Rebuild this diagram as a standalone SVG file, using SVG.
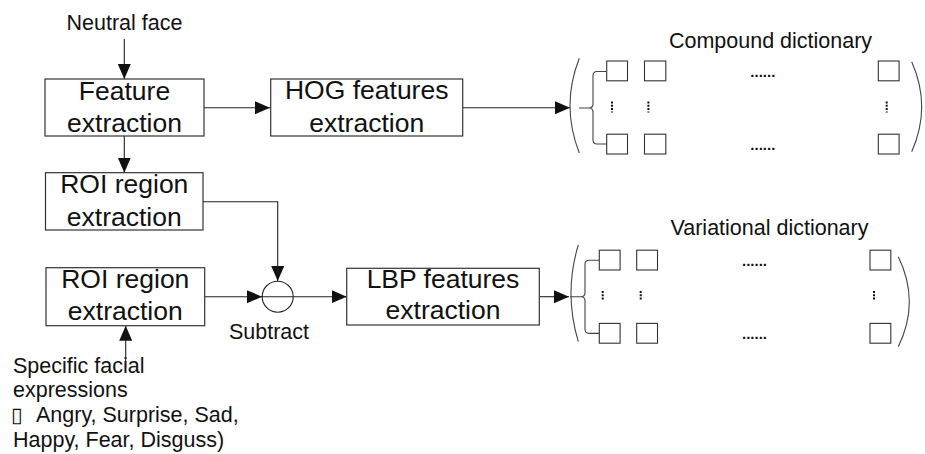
<svg xmlns="http://www.w3.org/2000/svg" width="925" height="454" viewBox="0 0 925 454">
  <style>
    .box { fill: #ffffff; stroke: #333333; stroke-width: 1.2; }
    .cell { fill: #ffffff; stroke: #333333; stroke-width: 1.1; }
    .wire { fill: none; stroke: #222222; stroke-width: 1.1; }
    .brk { fill: none; stroke: #444444; stroke-width: 1.1; }
    .vdots { fill: none; stroke: #111111; stroke-width: 2; stroke-dasharray: 2 1.3; }
    .big { font-family: "Liberation Sans", Arial, sans-serif; font-size: 26.5px; fill: #111111; text-anchor: middle; }
    .lbl { font-family: "Liberation Sans", Arial, sans-serif; font-size: 21.5px; fill: #111111; }
    .mid { text-anchor: middle; }
    .dots { font-family: "Liberation Sans", Arial, sans-serif; font-size: 15px; font-weight: bold; fill: #111111; }
  </style>
  <defs>
    <marker id="arrow" markerUnits="userSpaceOnUse" markerWidth="16" markerHeight="14" refX="15" refY="6.5" orient="auto">
      <path d="M0,0 L15,6.5 L0,13 z" fill="#111111"/>
    </marker>
  </defs>

  <rect width="925" height="454" fill="#ffffff"/>

  <!-- free labels -->
  <text class="lbl mid" x="124.5" y="30">Neutral face</text>
  <text class="lbl mid" x="269" y="339">Subtract</text>
  <g id="expressions-label">
    <text class="lbl" x="13" y="372.5">Specific facial</text>
    <text class="lbl" x="13" y="396.5">expressions</text>
    <text class="lbl" x="11" y="422"><tspan font-family="DejaVu Sans, sans-serif" font-size="21px">▯</tspan><tspan x="36">Angry, Surprise, Sad,</tspan></text>
    <text class="lbl" x="13" y="446.5">Happy, Fear, Disguss)</text>
  </g>

  <!-- connectors -->
  <g id="connectors">
    <path class="wire" d="M124.3,39 V79" marker-end="url(#arrow)"/>
    <path class="wire" d="M204,107.7 H270" marker-end="url(#arrow)"/>
    <path class="wire" d="M124.3,136 V172.7" marker-end="url(#arrow)"/>
    <path class="wire" d="M203,201.7 H277.7 V281" marker-end="url(#arrow)"/>
    <path class="wire" d="M204.7,296.7 H262" marker-end="url(#arrow)"/>
    <path class="wire" d="M262,296.7 H346.7" marker-end="url(#arrow)"/>
    <path class="wire" d="M125.7,367 V325.7" marker-end="url(#arrow)"/>
    <path class="wire" d="M462.7,107.7 H570" marker-end="url(#arrow)"/>
    <path class="wire" d="M539.3,296.7 H569" marker-end="url(#arrow)"/>
  </g>

  <!-- processing nodes -->
  <g id="feature-extraction">
    <rect class="box" x="45" y="79" width="159" height="57"/>
    <text class="big" x="124.5" y="99.5">Feature</text>
    <text class="big" x="124.5" y="131.5">extraction</text>
  </g>
  <g id="hog-features">
    <rect class="box" x="270.7" y="79" width="192" height="57"/>
    <text class="big" x="366.7" y="99">HOG features</text>
    <text class="big" x="366.7" y="131.5">extraction</text>
  </g>
  <g id="roi-neutral">
    <rect class="box" x="45.5" y="172.7" width="157.5" height="57.3"/>
    <text class="big" x="124.3" y="193.3">ROI region</text>
    <text class="big" x="124.3" y="225.5">extraction</text>
  </g>
  <g id="roi-expression">
    <rect class="box" x="46" y="267.7" width="158.7" height="58"/>
    <text class="big" x="125.3" y="288.3">ROI region</text>
    <text class="big" x="125.3" y="320">extraction</text>
  </g>
  <g id="subtract">
    <circle cx="277.7" cy="296.7" r="15.5" fill="none" stroke="#222222" stroke-width="1.1"/>
  </g>
  <g id="lbp-features">
    <rect class="box" x="346.7" y="268.3" width="192.6" height="56.7"/>
    <text class="big" x="443" y="287.5">LBP features</text>
    <text class="big" x="443" y="318.5">extraction</text>
  </g>

  <!-- compound dictionary -->
  <g id="compound-dictionary">
    <text class="lbl mid" x="770.5" y="48">Compound dictionary</text>
    <path class="brk" d="M579.3,58.3 Q560.7,105.7 579.3,153"/>
    <path class="brk" d="M911.7,61.7 Q931.7,106.7 911.7,151.7"/>
    <path class="brk" d="M579,108 H589 Q593,108 593,104 V75.7 Q593,71.5 597,71.5 H606.7 M589,108 Q593,108 593,112 V140 Q593,144 597,144 H606.7"/>
    <rect class="cell" x="606.7" y="61" width="20.8" height="19.8"/>
    <rect class="cell" x="644.5" y="61" width="21.3" height="19.8"/>
    <rect class="cell" x="878.3" y="61" width="20.8" height="19.8"/>
    <rect class="cell" x="606.7" y="134.2" width="20.8" height="19.8"/>
    <rect class="cell" x="644.5" y="134.2" width="21.3" height="19.8"/>
    <rect class="cell" x="878.3" y="134.2" width="20.8" height="19.8"/>
    <text class="dots" x="750.3" y="77.2">......</text>
    <text class="dots" x="750.3" y="150.4">......</text>
    <path class="vdots" d="M612,101.5 V112.5 M648.4,101.5 V112.5 M886.7,101.5 V112.5"/>
  </g>

  <!-- variational dictionary -->
  <g id="variational-dictionary">
    <text class="lbl mid" x="769.5" y="235">Variational dictionary</text>
    <path class="brk" d="M578.3,245 Q563.7,293.3 578.3,341.7"/>
    <path class="brk" d="M898.3,256.7 Q920.3,301.7 898.3,346.7"/>
    <path class="brk" d="M570,296.8 H581 Q585,296.8 585,292.8 V264.3 Q585,260.2 589,260.2 H599.3 M581,296.8 Q585,296.8 585,300.8 V329.3 Q585,333.4 589,333.4 H599.3"/>
    <rect class="cell" x="599.3" y="250.2" width="20.8" height="19.8"/>
    <rect class="cell" x="636.7" y="250.2" width="20.8" height="19.8"/>
    <rect class="cell" x="870" y="250.2" width="20.8" height="19.8"/>
    <rect class="cell" x="599.3" y="323.4" width="20.8" height="19.8"/>
    <rect class="cell" x="636.7" y="323.4" width="20.8" height="19.8"/>
    <rect class="cell" x="870" y="323.4" width="20.8" height="19.8"/>
    <text class="dots" x="742" y="266">......</text>
    <text class="dots" x="742" y="339.3">......</text>
    <path class="vdots" d="M602.7,291 V301 M640.7,291 V301 M874,291 V301"/>
  </g>
</svg>
